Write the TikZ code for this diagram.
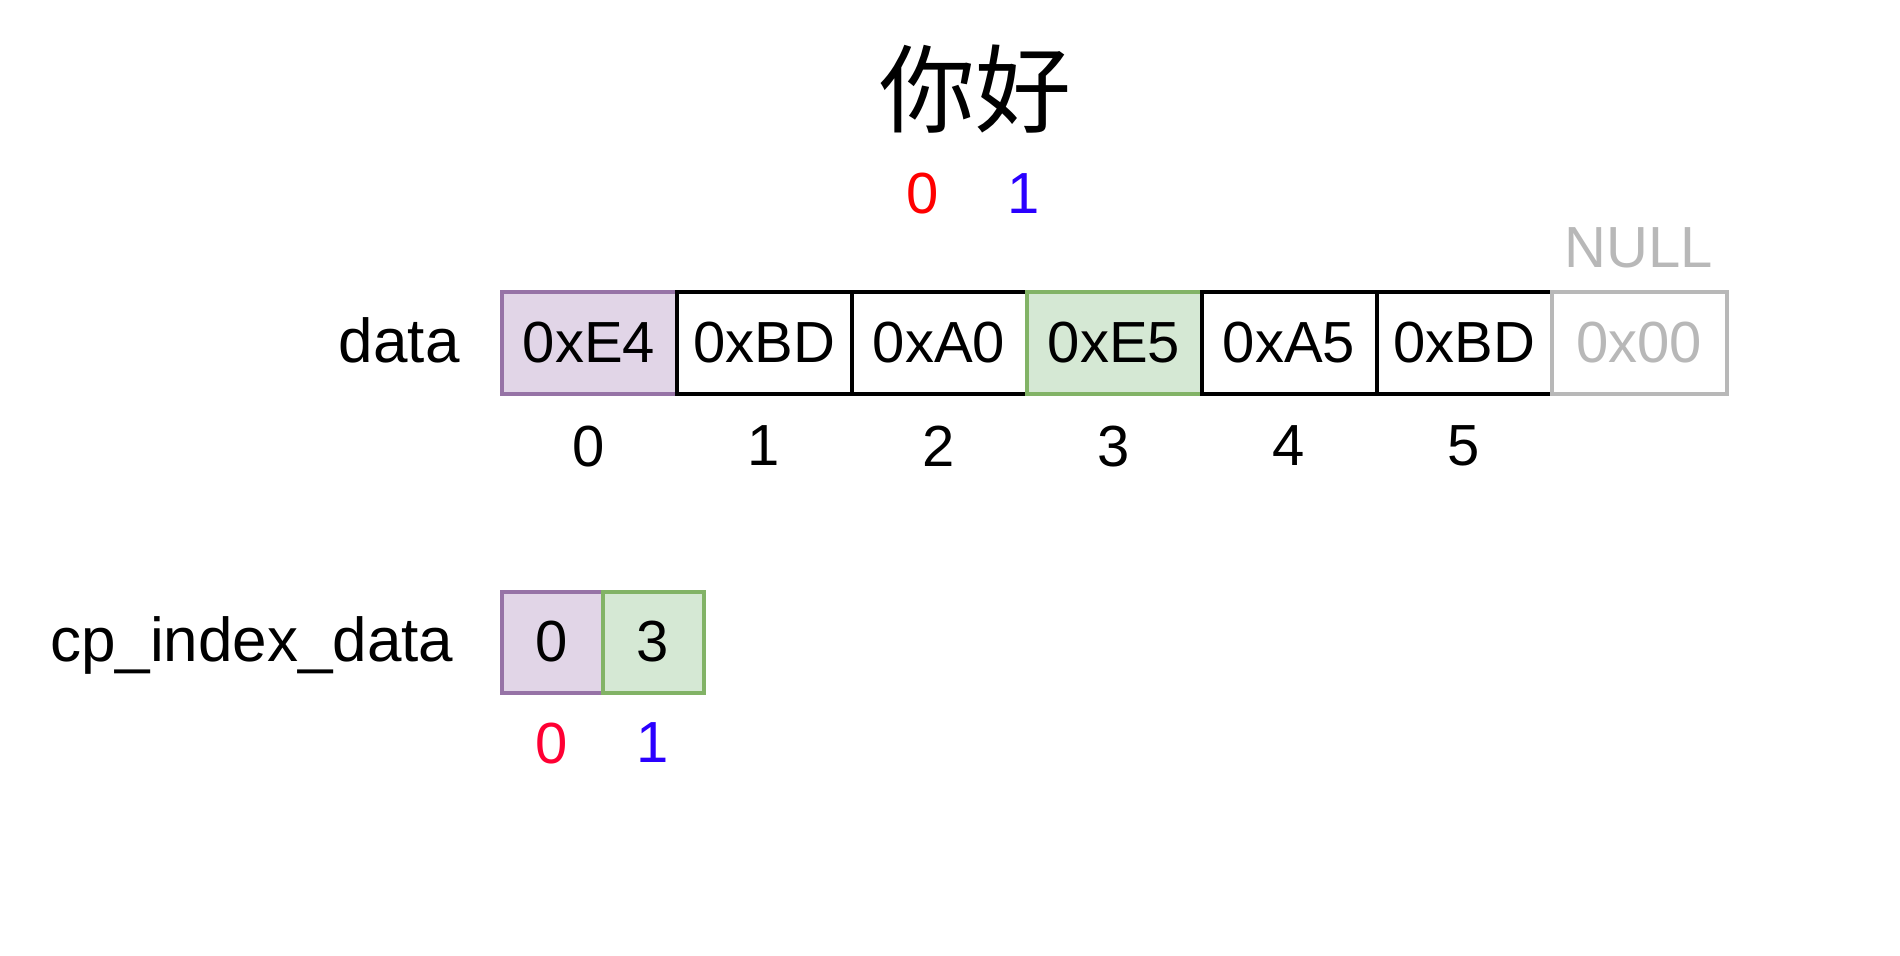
\documentclass[tikz,border=0pt]{standalone}
\usepackage{fontspec}
\setmainfont{Liberation Sans}
\newfontfamily\cjk{Noto Sans CJK SC}
\usetikzlibrary{positioning}
\definecolor{cponeline}{HTML}{9673A6}
\definecolor{cponefill}{HTML}{E1D5E7}
\definecolor{cptwoline}{HTML}{82B366}
\definecolor{cptwofill}{HTML}{D5E8D4}
\definecolor{nullgray}{HTML}{B8B8B8}
\definecolor{idxred}{HTML}{FF0000}
\definecolor{cpred}{HTML}{FF0033}
\definecolor{idxblue}{HTML}{2A00FF}
\tikzset{
    cell/.style =   {rectangle,
                    fill=white,
                    draw=black,
                    text=black,
                    line width=2pt,
                    inner sep=0pt,
                    outer sep=0pt,
                    minimum width=87.5pt,
                    minimum height=50.5pt,
                    font=\fontsize{29}{34}\selectfont},
    cpone/.style =  {fill=cponefill,
                    draw=cponeline},
    cptwo/.style =  {fill=cptwofill,
                    draw=cptwoline},
    nul/.style =    {draw=nullgray,
                    text=nullgray},
    small/.style =  {minimum width=50.5pt},
    -,
    idx/.style =    {inner sep=0pt,
                    font=\fontsize{29}{34}\selectfont},
    lbl/.style =    {inner sep=0pt,
                    font=\fontsize{31}{36}\selectfont},
    heading/.style = {inner sep=0pt,
                    font=\cjk\fontsize{48}{56}\selectfont},
    node distance=16pt}
\begin{document}
\begin{tikzpicture}[x=0.5pt,y=0.5pt]
    \useasboundingbox (0,0) rectangle (1900,955);
                    \node[heading]          (title) at (975,866)      {你好};
                    \node[idx,text=idxred]  (t0)    at (923,761)      {0};
                    \node[idx,text=idxblue] (t1)    at (1024,761)     {1};
                    % bytes of the string
                    \node[cell,cpone]       (d0) at (589,612)         {0xE4};
                    \node[cell]             (d1) [right=0pt of d0]    {0xBD};
                    \node[cell]             (d2) [right=0pt of d1]    {0xA0};
                    \node[cell,cptwo]       (d3) [right=0pt of d2]    {0xE5};
                    \node[cell]             (d4) [right=0pt of d3]    {0xA5};
                    \node[cell]             (d5) [right=0pt of d4]    {0xBD};
                    \node[cell,nul]         (d6) [right=0pt of d5]    {0x00};
                    \node[idx,text=nullgray] (null) [above=12pt of d6] {NULL};
                    \foreach \i in {0,...,5}
                        \node[idx]          (i\i) [below=of d\i]      {\i};
                    \node[lbl]              (datalbl) [left=20.8pt of d0.base west, anchor=base east] {data};
                    % code point index
                    \node[cell,cpone,small] (c0) at (552,313)         {0};
                    \node[cell,cptwo,small] (c1) [right=0pt of c0]    {3};
                    \node[lbl]              (cplbl) [left=23.8pt of c0.base west, anchor=base east] {cp\_index\_data};
                    \node[idx,text=cpred]   (r0) [below=15pt of c0]   {0};
                    \node[idx,text=idxblue] (r1) [below=15pt of c1]   {1};
\end{tikzpicture}
\end{document}
